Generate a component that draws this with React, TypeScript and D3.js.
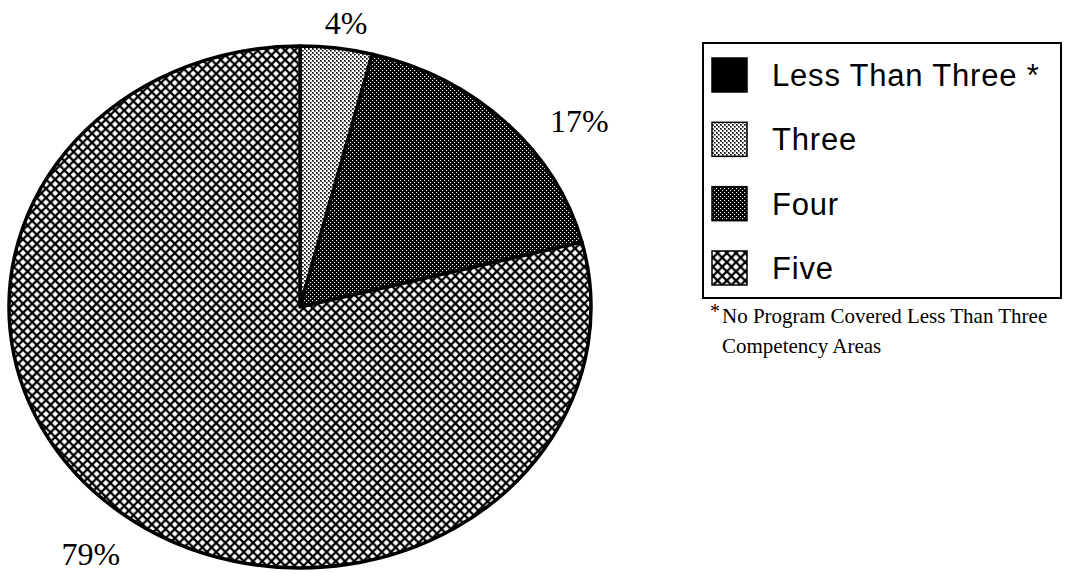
import React from "react";
import * as d3 from "d3";

// chart values
const categories = ["Less Than Three", "Three", "Four", "Five"];
const shares = [0, 4, 17, 79];
const legendNames = ["Less Than Three *", "Three", "Four", "Five"];
const footnoteLines = ["No Program Covered Less Than Three", "Competency Areas"];

const W = 1083;
const H = 573;
const cx = 300;
const cy = 307;
const rx = 291;
const ry = 261;

const fills = ["#000", "url(#pThree)", "url(#pFour)", "url(#pFive)"];
// small nudges for the percent labels, index matches categories
const labelNudge = [
  [0, 0],
  [6, 1],
  [53, 17],
  [-13, 20],
];

const pt = (a: number, k = 1): [number, number] => [
  cx + rx * k * Math.sin(a),
  cy - ry * k * Math.cos(a),
];

const slicePath = (a0: number, a1: number) => {
  const [x0, y0] = pt(a0);
  const [x1, y1] = pt(a1);
  const large = a1 - a0 > Math.PI ? 1 : 0;
  return `M${cx},${cy}L${x0},${y0}A${rx},${ry} 0 ${large} 1 ${x1},${y1}Z`;
};

const App: React.FC = () => {
  const arcs = d3
    .pie<number>()
    .sort(null)
    .value((d) => d)(shares);

  const legendY = d3
    .scalePoint<string>()
    .domain(categories)
    .range([75, 268]);

  const h = 3; // half diagonal of the white diamonds
  const s = 9.2;
  const diamond = (x: number, y: number) =>
    `${x},${y - h} ${x + h},${y} ${x},${y + h} ${x - h},${y}`;

  return (
    <svg
      width={W}
      height={H}
      style={{ position: "absolute", left: 0, top: 0, background: "#fff" }}
    >
      <defs>
        <pattern id="pThree" width={4} height={4} patternUnits="userSpaceOnUse">
          <rect width={4} height={4} fill="#fff" />
          <rect x={0} y={0} width={1.6} height={1.6} fill="#000" />
          <rect x={2} y={2} width={1.6} height={1.6} fill="#000" />
          <rect x={1} y={1} width={1} height={1} fill="#555" />
        </pattern>
        <pattern id="pFour" width={4} height={4} patternUnits="userSpaceOnUse">
          <rect width={4} height={4} fill="#000" />
          <rect x={0} y={0} width={1.1} height={1.1} fill="#fff" />
          <rect x={2} y={2} width={1.1} height={1.1} fill="#fff" />
        </pattern>
        <pattern id="pFive" width={s} height={s} patternUnits="userSpaceOnUse">
          <rect width={s} height={s} fill="#000" />
          <polygon points={diamond(s / 2, s / 2)} fill="#fff" />
          <polygon points={diamond(0, 0)} fill="#fff" />
          <polygon points={diamond(s, 0)} fill="#fff" />
          <polygon points={diamond(0, s)} fill="#fff" />
          <polygon points={diamond(s, s)} fill="#fff" />
        </pattern>
      </defs>

      {/* pie */}
      {arcs.map((a, i) =>
        a.value > 0 ? (
          <path
            key={categories[i]}
            d={slicePath(a.startAngle, a.endAngle)}
            fill={fills[i]}
            stroke="#000"
            strokeWidth={3.5}
            strokeLinejoin="round"
          />
        ) : null
      )}

      {/* percent labels */}
      {arcs.map((a, i) => {
        if (a.value <= 0) return null;
        const mid = (a.startAngle + a.endAngle) / 2;
        const [x, y] = pt(mid, 1.1);
        return (
          <text
            key={"l" + i}
            x={x + labelNudge[i][0]}
            y={y + labelNudge[i][1]}
            dy="0.35em"
            textAnchor="middle"
            fontFamily="Liberation Serif"
            fontSize={32}
            fill="#000"
          >
            {a.value}%
          </text>
        );
      })}

      {/* legend */}
      <rect x={703} y={43} width={358} height={255} fill="none" stroke="#000" strokeWidth={2} />
      {categories.map((c, i) => {
        const y = legendY(c)!;
        return (
          <g key={c}>
            <rect
              x={712}
              y={y - 17}
              width={35}
              height={34}
              fill={fills[i]}
              stroke="#000"
              strokeWidth={1.5}
            />
            <text
              x={772}
              y={y}
              dy="0.36em"
              fontFamily="Liberation Sans"
              fontSize={31}
              letterSpacing={0.8}
              fill="#000"
            >
              {legendNames[i]}
            </text>
          </g>
        );
      })}

      {/* footnote */}
      <text x={710} y={318} fontFamily="Liberation Serif" fontSize={20} fill="#000">
        *
      </text>
      {footnoteLines.map((t, i) => (
        <text
          key={t}
          x={722}
          y={323 + i * 30}
          fontFamily="Liberation Serif"
          fontSize={21}
          fill="#000"
        >
          {t}
        </text>
      ))}
    </svg>
  );
};

export default App;
